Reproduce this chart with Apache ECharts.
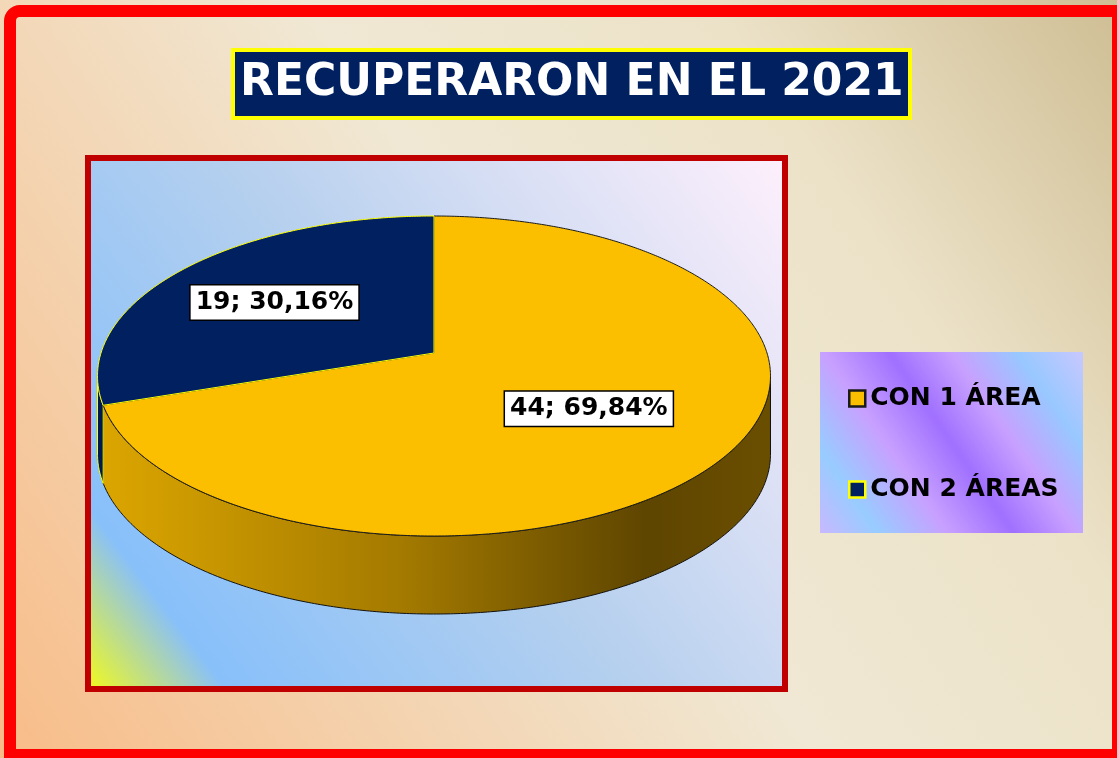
<!DOCTYPE html>
<html>
<head>
<meta charset="utf-8">
<title>Recuperaron en el 2021</title>
<script src="https://cdn.jsdelivr.net/npm/echarts@6/dist/echarts.min.js"></script>
<style>
  html, body { margin: 0; padding: 0; background: #fff; }
  #chart { width: 1117px; height: 758px; }
</style>
</head>
<body>
<div id="chart"></div>
<script>
// datos
const categories = ['CON 1 ÁREA', 'CON 2 ÁREAS'];
const values = [44, 19];
const chartTitle = 'RECUPERARON EN EL 2021';

const sliceColors = ['#fcbf00', '#002060'];
const sliceBorders = ['#1a1a1a', '#ffff00'];
// degradado de la pared lateral (izq -> der)
const wallStops = [
  [{ offset: 0, color: '#dca600' }, { offset: 0.45, color: '#a47a00' }, { offset: 0.82, color: '#5e4500' }, { offset: 1, color: '#6a4e00' }],
  [{ offset: 0, color: '#001a50' }, { offset: 1, color: '#000c2a' }]
];

// geometria del pastel en perspectiva
const CX = 434, CY = 353, RX = 333, RY = 156.7, P = 0.1438, DEPTH = 78;
const LABEL_R = 0.58, LABEL_DX = -10;
const deg = Math.PI / 180;
const total = values.reduce((a, b) => a + b, 0);

function proj(t, r, dz) {
  const s = Math.sin(t), c = Math.cos(t);
  const k = 1 + P * r * s;
  return [CX + RX * r * c / k, CY - RY * r * s / k + (dz || 0)];
}

function arc(a0, a1, r, dz) {
  const pts = [];
  const n = Math.max(2, Math.ceil(Math.abs(a1 - a0) / 0.5));
  for (let j = 0; j <= n; j++) {
    pts.push(proj((a0 + (a1 - a0) * j / n) * deg, r, dz));
  }
  return pts;
}

// rango frontal visible de la pared
const F0 = -180 + Math.asin(P) / deg;
const F1 = -Math.asin(P) / deg;

const fmtPct = v => (v / total * 100).toFixed(2).replace('.', ',');

function renderSlice(i) {
  return function (params, api) {
    const v = api.value(0);
    let before = 0;
    for (let k = 0; k < i; k++) before += values[k];
    // Excel: desde las 12 en sentido horario
    const s = 90 - 360 * before / total;
    const e = 90 - 360 * (before + v) / total;

    const children = [];

    // pared lateral (solo la parte frontal)
    for (let k = -1; k <= 1; k++) {
      const lo = Math.max(e + k * 360, F0);
      const hi = Math.min(s + k * 360, F1);
      if (hi > lo) {
        const pts = arc(lo, hi, 1, 0).concat(arc(hi, lo, 1, DEPTH));
        children.push({
          type: 'polygon',
          z2: 1,
          shape: { points: pts },
          style: {
            fill: new echarts.graphic.LinearGradient(CX - RX, 0, CX + RX, 0, wallStops[i], true),
            stroke: i === 0 ? '#111' : sliceBorders[i],
            lineWidth: 1
          }
        });
      }
    }

    // cara superior
    children.push({
      type: 'polygon',
      z2: 5,
      shape: { points: [proj(0, 0, 0)].concat(arc(s, e, 1, 0)) },
      style: { fill: sliceColors[i], stroke: sliceBorders[i], lineWidth: 1 }
    });

    // etiqueta
    const mid = (s + e) / 2 * deg;
    const lp = proj(mid, LABEL_R, 0);
    children.push({
      type: 'text',
      z2: 10,
      x: lp[0] + LABEL_DX,
      y: lp[1],
      style: {
        text: v + '; ' + fmtPct(v) + '%',
        fill: '#000',
        font: 'bold 25px "DejaVu Sans"',
        align: 'center',
        verticalAlign: 'middle',
        backgroundColor: '#fff',
        borderColor: '#000',
        borderWidth: 1.5,
        padding: [5, 5, 4, 5]
      }
    });

    return { type: 'group', children: children };
  };
}

const chart = echarts.init(document.getElementById('chart'));

chart.setOption({
  animation: false,
  title: {
    text: chartTitle,
    left: 233,
    top: 50,
    padding: [7, 7],
    backgroundColor: '#002060',
    borderColor: '#ffff00',
    borderWidth: 4,
    textStyle: {
      color: '#fff',
      fontFamily: 'DejaVu Sans',
      fontWeight: 'bold',
      fontSize: 44,
      lineHeight: 54
    }
  },
  legend: {
    orient: 'vertical',
    left: 843,
    top: 381,
    itemWidth: 16,
    itemHeight: 16,
    itemGap: 66,
    icon: 'rect',
    textStyle: {
      color: '#000',
      fontFamily: 'DejaVu Sans',
      fontWeight: 'bold',
      fontSize: 25,
      lineHeight: 25
    },
    data: categories.map((n, i) => ({
      name: n,
      itemStyle: { color: sliceColors[i], borderColor: sliceBorders[i], borderWidth: 2.5 }
    }))
  },
  graphic: [
    {
      type: 'rect', z: -10,
      shape: { x: 0, y: 0, width: 1117, height: 758 },
      style: {
        fill: new echarts.graphic.LinearGradient(0, 1, 1, 0, [
          { offset: 0, color: '#f8bc88' },
          { offset: 0.5, color: '#f0e8d4' },
          { offset: 0.75, color: '#ece2c8' },
          { offset: 1, color: '#cfbe94' }
        ])
      }
    },
    {
      type: 'rect', z: -9,
      shape: { x: 88, y: 158, width: 697, height: 531 },
      style: {
        fill: new echarts.graphic.LinearGradient(0, 1, 1, 0, [
          { offset: 0, color: '#f6fc14' },
          { offset: 0.13, color: '#88c0fa' },
          { offset: 0.5, color: '#b6d0ee' },
          { offset: 1, color: '#fff0fc' }
        ]),
        stroke: '#c00000',
        lineWidth: 6
      }
    },
    {
      type: 'rect', z: -9,
      shape: { x: 820, y: 352, width: 263, height: 181 },
      style: {
        fill: new echarts.graphic.LinearGradient(0, 1, 1, 0, [
          { offset: 0, color: '#c8b8ff' },
          { offset: 0.15, color: '#98ccff' },
          { offset: 0.33, color: '#c8a0ff' },
          { offset: 0.5, color: '#a070ff' },
          { offset: 0.66, color: '#c8a0ff' },
          { offset: 0.83, color: '#98c8ff' },
          { offset: 1, color: '#c8c8ff' }
        ])
      }
    },
    {
      type: 'rect', z: 50,
      shape: { x: 10, y: 11, width: 1108, height: 744, r: [10, 0, 0, 0] },
      style: { fill: 'none', stroke: '#ff0000', lineWidth: 12 }
    }
  ],
  series: categories.map((n, i) => ({
    type: 'custom',
    name: n,
    coordinateSystem: 'none',
    itemStyle: { color: sliceColors[i] },
    data: [[values[i]]],
    renderItem: renderSlice(i)
  }))
});
</script>
</body>
</html>
